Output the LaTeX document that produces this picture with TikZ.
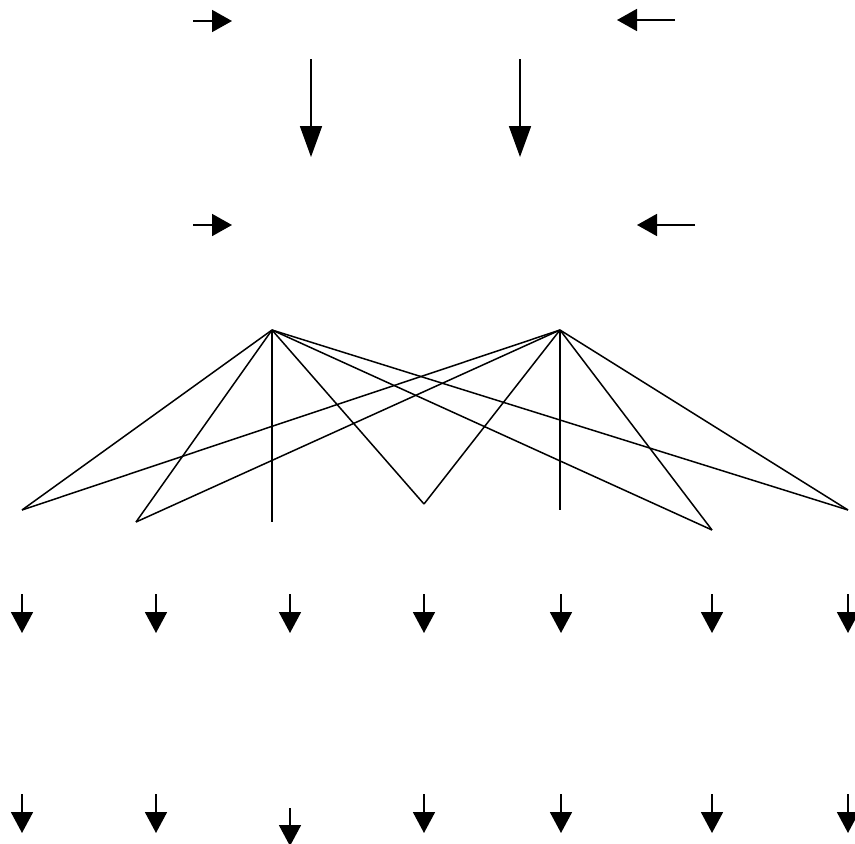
\documentclass[tikz,border=0pt]{standalone}
\usetikzlibrary{arrows.meta}
\begin{document}
\begin{tikzpicture}[x=1pt,y=-1pt,
  net/.style={line width=1.5pt},
  bigarrow/.style={line width=1.8pt,-{Triangle[length=31pt,width=22pt]}},
  sidearrow/.style={line width=1.8pt,-{Triangle[length=20pt,width=22pt]}},
  smallarrow/.style={line width=1.8pt,-{Triangle[length=21pt,width=22pt]}}]
\useasboundingbox (0,0) rectangle (855,844);
% top horizontal arrows
\coordinate (h1s) at (193,21); \coordinate (h1e) at (232,21);
\coordinate (h2s) at (675,20); \coordinate (h2e) at (617,20);
\draw[sidearrow] (h1s) -- (h1e);
\draw[sidearrow] (h2s) -- (h2e);
% big down arrows
\coordinate (d1s) at (311,59); \coordinate (d1e) at (311,157);
\coordinate (d2s) at (520,59); \coordinate (d2e) at (520,157);
\draw[bigarrow] (d1s) -- (d1e);
\draw[bigarrow] (d2s) -- (d2e);
% second horizontal arrows
\coordinate (h3s) at (193,225); \coordinate (h3e) at (232,225);
\coordinate (h4s) at (695,225); \coordinate (h4e) at (637,225);
\draw[sidearrow] (h3s) -- (h3e);
\draw[sidearrow] (h4s) -- (h4e);
% network
\coordinate (A) at (272,330);
\coordinate (B) at (560,330);
\coordinate (p1) at (22,510);
\coordinate (p2) at (136,522);
\coordinate (p3) at (272,522);
\coordinate (p4) at (424,504);
\coordinate (p5) at (560,510);
\coordinate (p6) at (712,530);
\coordinate (p7) at (848,510);
\foreach \p in {p1,p2,p3,p4,p6,p7} \draw[net] (A) -- (\p);
\foreach \p in {p1,p2,p4,p5,p6,p7} \draw[net] (B) -- (\p);
% rows of small arrows
\foreach \x [count=\i] in {22,156,290,424,561,712,848} {
  \coordinate (r\i s) at (\x,594);
  \coordinate (r\i e) at (\x,633);
  \draw[smallarrow] (r\i s) -- (r\i e);
}
\foreach \x/\t/\b [count=\i] in {22/794/833,156/794/833,290/808/846,424/794/833,561/794/833,712/794/833,848/794/833} {
  \coordinate (b\i s) at (\x,\t);
  \coordinate (b\i e) at (\x,\b);
  \draw[smallarrow] (b\i s) -- (b\i e);
}
\end{tikzpicture}
\end{document}
